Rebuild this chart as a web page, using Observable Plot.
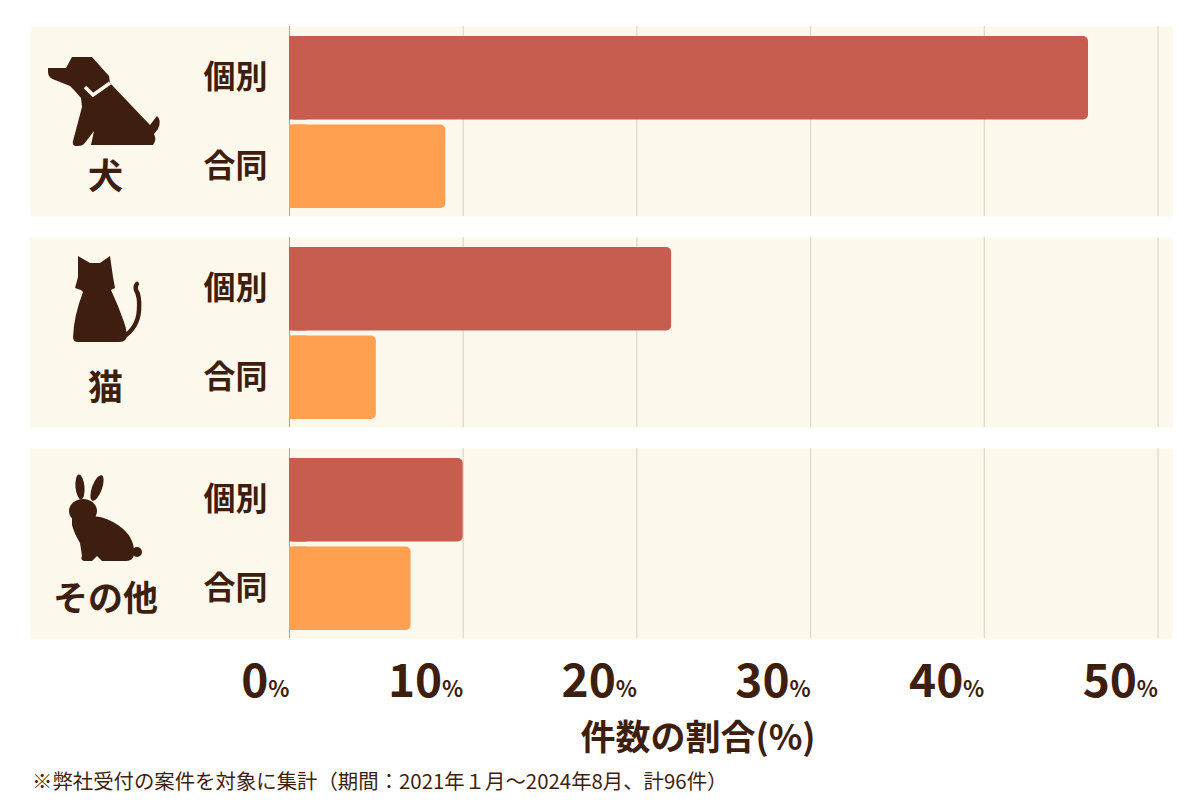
<!DOCTYPE html>
<html><head><meta charset="utf-8">
<script src="https://cdn.jsdelivr.net/npm/d3@7"></script>
<script src="https://cdn.jsdelivr.net/npm/@observablehq/plot@0.6"></script>
<style>
body{margin:0;background:#fff;font-family:"Noto Sans CJK JP",sans-serif;color:#3E1F0F;}
#wrap{position:relative;width:1200px;height:800px;overflow:hidden;}
#chart{position:absolute;left:0;top:0;}
#xtitle{position:absolute;left:448px;width:500px;top:712px;text-align:center;font-size:35px;line-height:46px;font-weight:700;}
#note{position:absolute;left:32px;top:766px;font-size:20.4px;line-height:28px;font-weight:400;white-space:nowrap;}
</style></head>
<body>
<div id="wrap"><div id="chart"></div>
<div id="xtitle">件数の割合(%)</div>
<div id="note">※弊社受付の案件を対象に集計（期間：2021年１月～2024年8月、計96件）</div>
</div>
<script>
const groups = ["犬", "猫", "その他"];
const types = ["個別", "合同"];
const kobetsu = [46, 22, 10];
const goudou = [9, 5, 7];
const ticks = [0, 10, 20, 30, 40, 50];
const colors = ["#C65D4E", "#FFA050"];
const ink = "#3E1F0F";

const data = groups.flatMap((g, i) => [
  {group: g, type: types[0], value: kobetsu[i]},
  {group: g, type: types[1], value: goudou[i]}
]);
const fillOf = d => colors[types.indexOf(d.type)];

const plot = Plot.plot({
  width: 1200, height: 710,
  marginTop: 26, marginBottom: 72, marginLeft: 30, marginRight: 28,
  style: {fontFamily: "'Noto Sans CJK JP', sans-serif", color: ink, background: "transparent", overflow: "visible"},
  x: {domain: [0, 50], insetLeft: 259, insetRight: 14.5},
  y: {domain: types, insetTop: 10, insetBottom: 8, paddingInner: 0.0565, paddingOuter: 0, axis: null, round: false},
  fy: {domain: groups, paddingInner: 21 / 211, paddingOuter: 0, axis: null, round: false},
  marks: [
    Plot.frame({fill: "#FDF8EC", stroke: "none"}),
    Plot.gridX(ticks, {stroke: "#D9D2C4", strokeOpacity: 1}),
    Plot.ruleX([0], {stroke: "#ABA49A"}),
    Plot.barX(data, {fy: "group", y: "type", x: "value", fill: fillOf, rx: 5}),
    Plot.barX(data, {fy: "group", y: "type", x1: 0, x2: d => Math.min(d.value, 1), fill: fillOf}),
    Plot.text(data, {fy: "group", y: "type", text: "type", frameAnchor: "left", dx: 205, textAnchor: "middle", fontSize: 32, fontWeight: 700, fill: ink}),
    Plot.text(groups, {fy: d => d, text: d => d, frameAnchor: "top-left", dx: 75, dy: 151, textAnchor: "middle", lineAnchor: "middle", fontSize: 35, fontWeight: 700, fill: ink}),
    Plot.axisX(ticks, {tickSize: 0, tickPadding: 26, tickFormat: d => String(d), fontSize: 46, fontWeight: 700, textAnchor: "end", dx: -21, label: null}),
    Plot.axisX(ticks, {tickSize: 0, tickPadding: 43, tickFormat: () => "%", fontSize: 22, fontWeight: 700, textAnchor: "end", label: null})
  ]
});
document.getElementById("chart").appendChild(plot);

// decorative animal silhouettes
const fy = plot.scale("fy");
const svg = d3.select(plot);
const icons = svg.append("g").attr("fill", ink);
const panelTops = {"犬": 26, "猫": 237, "その他": 448};
const off = g => fy.apply(g) - panelTops[g];

// dog
const dog = icons.append("g").attr("transform", `translate(0,${off("犬")})`);
dog.append("path").attr("d",
  "M48,68 L66,68 L72,57 L92,57 L109,76 L110,83 L150,125 L157,116 Q162,120 158,129 L154,134 Q157,140 153,145 L91,145 L94,131 L84,144 Q82,146 78,146 L75,146 Q72,145 73,141 L82,107 L81,98 L74,90 L70,86 L55,80 Q48,78 48,72 Z");
dog.append("path").attr("d", "M85,87 L93,95 L110,83").attr("fill", "none").attr("stroke", "#FDF8EC").attr("stroke-width", 3.5).attr("stroke-linejoin", "miter");

// cat
const cat = icons.append("g").attr("transform", `translate(0,${off("猫")})`);
cat.append("path").attr("d",
  "M78,256 L90,263 L100,263 L110,256 L113,277 L115,288 L111,290 Q118,305 124,322 Q128,333 126,339 Q124,342 119,342 L78,342 Q73,342 73,337 Q74,315 83,292 L81,290 L75,288 L78,277 Z");
cat.append("path").attr("d", "M122,338 Q138,328 139,310 Q140,296 136,290 Q135,286 137,284").attr("fill", "none").attr("stroke", ink).attr("stroke-width", 4.5).attr("stroke-linecap", "round");

// rabbit
const rab = icons.append("g").attr("transform", `translate(0,${off("その他")})`);
rab.append("ellipse").attr("cx", 80).attr("cy", 487).attr("rx", 4.5).attr("ry", 12.5).attr("transform", "rotate(-5,80,487)");
rab.append("ellipse").attr("cx", 97).attr("cy", 488).attr("rx", 5).attr("ry", 13.5).attr("transform", "rotate(20,97,488)");
rab.append("ellipse").attr("cx", 83).attr("cy", 511).attr("rx", 14).attr("ry", 12);
rab.append("path").attr("d",
  "M72,518 Q95,512 113,522 Q133,533 134,550 Q135,561 126,561 L102,561 L97,556 L92,561 L84,561 Q80,560 82,556 L80,543 Q74,533 72,525 Z");
rab.append("circle").attr("cx", 137).attr("cy", 552).attr("r", 5);
</script>
</body></html>
